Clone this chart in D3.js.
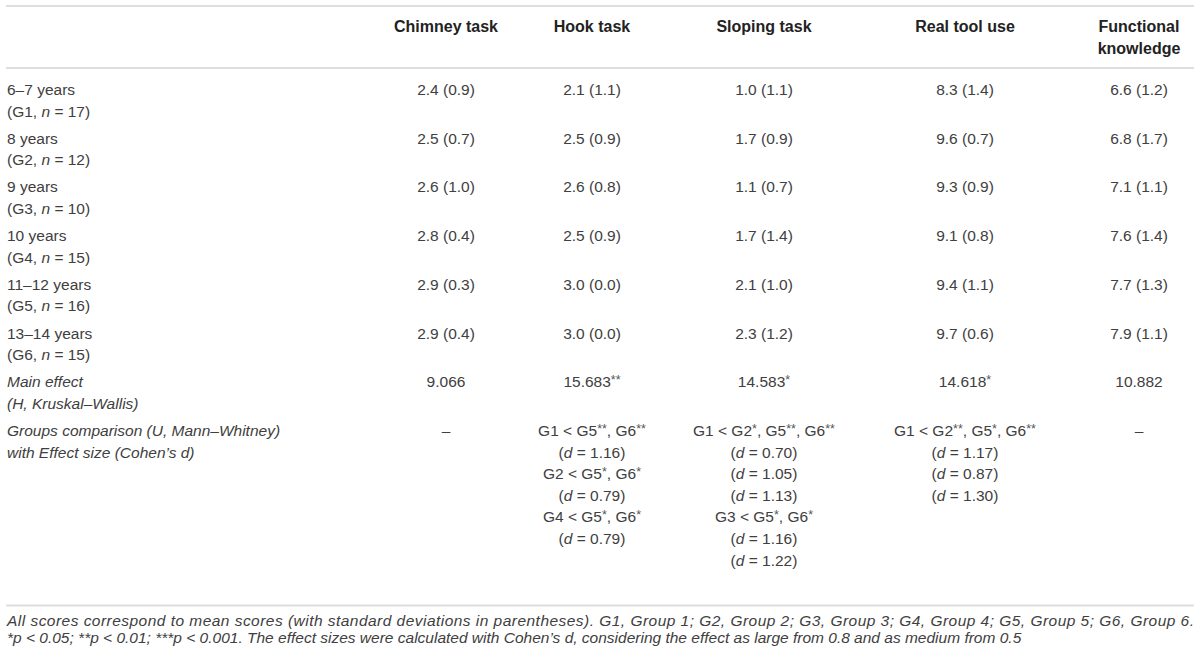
<!DOCTYPE html>
<html>
<head>
<meta charset="utf-8">
<script src="https://cdn.jsdelivr.net/npm/d3@7"></script>
<style>
  html, body { margin: 0; padding: 0; background: #fff; }
  svg { display: block; font-family: "Helvetica Neue", "Liberation Sans", Arial, sans-serif; }
</style>
</head>
<body>
<svg id="table"></svg>
<script>
// table values
const tasks = ["Chimney task", "Hook task", "Sloping task", "Real tool use", "Functional knowledge"];
const taskHeaderLines = [["Chimney task"], ["Hook task"], ["Sloping task"], ["Real tool use"], ["Functional", "knowledge"]];

const ageGroups = ["6–7 years", "8 years", "9 years", "10 years", "11–12 years", "13–14 years"];
const groupCodes = ["G1", "G2", "G3", "G4", "G5", "G6"];
const groupSizes = [17, 12, 10, 15, 16, 15];

const chimneyMean = [2.4, 2.5, 2.6, 2.8, 2.9, 2.9];
const chimneySD = [0.9, 0.7, 1.0, 0.4, 0.3, 0.4];
const hookMean = [2.1, 2.5, 2.6, 2.5, 3.0, 3.0];
const hookSD = [1.1, 0.9, 0.8, 0.9, 0.0, 0.0];
const slopingMean = [1.0, 1.7, 1.1, 1.7, 2.1, 2.3];
const slopingSD = [1.1, 0.9, 0.7, 1.4, 1.0, 1.2];
const realToolMean = [8.3, 9.6, 9.3, 9.1, 9.4, 9.7];
const realToolSD = [1.4, 0.7, 0.9, 0.8, 1.1, 0.6];
const functionalMean = [6.6, 6.8, 7.1, 7.6, 7.7, 7.9];
const functionalSD = [1.2, 1.7, 1.1, 1.4, 1.3, 1.1];

const kruskalH = [9.066, 15.683, 14.583, 14.618, 10.882];
const kruskalStars = ["", "**", "*", "*", ""];

const chimneyComparisons = [];
const hookComparisons = [
  { lower: "G1", higher: ["G5", "G6"], stars: ["**", "**"], d: [1.16] },
  { lower: "G2", higher: ["G5", "G6"], stars: ["*", "*"], d: [0.79] },
  { lower: "G4", higher: ["G5", "G6"], stars: ["*", "*"], d: [0.79] }
];
const slopingComparisons = [
  { lower: "G1", higher: ["G2", "G5", "G6"], stars: ["*", "**", "**"], d: [0.70, 1.05, 1.13] },
  { lower: "G3", higher: ["G5", "G6"], stars: ["*", "*"], d: [1.16, 1.22] }
];
const realToolComparisons = [
  { lower: "G1", higher: ["G2", "G5", "G6"], stars: ["**", "*", "**"], d: [1.17, 0.87, 1.30] }
];
const functionalComparisons = [];

const footnoteLines = [
  "All scores correspond to mean scores (with standard deviations in parentheses). G1, Group 1; G2, Group 2; G3, Group 3; G4, Group 4; G5, Group 5; G6, Group 6.",
  "*p < 0.05; **p < 0.01; ***p < 0.001. The effect sizes were calculated with Cohen’s d, considering the effect as large from 0.8 and as medium from 0.5"
];

const means = [chimneyMean, hookMean, slopingMean, realToolMean, functionalMean];
const sds = [chimneySD, hookSD, slopingSD, realToolSD, functionalSD];
const comparisons = [chimneyComparisons, hookComparisons, slopingComparisons, realToolComparisons, functionalComparisons];

// layout
const width = 1200;
const height = 658;
const left = 7;
const right = 1194;
const lineGap = 21.6;
const fontSize = 15.5;
const textColor = "#404040";
const ruleColor = "#dedede";

const svg = d3.select("#table").attr("width", width).attr("height", height);

const xCol = d3.scaleOrdinal().domain(tasks).range([446, 592, 764, 965, 1139]);
// row index 0-5 = age groups, 6 = main effect, 7 = group comparisons
const yRow = d3.scaleLinear().domain([0, 7]).range([95, 436]);

const f1 = d3.format(".1f");
const f2 = d3.format(".2f");
const f3 = d3.format(".3f");

// draw one line of text made of runs: {text, italic, sup}
const drawLine = (g, x, y, runs, anchor) => {
  const t = g.append("text")
    .attr("x", x)
    .attr("y", y)
    .attr("text-anchor", anchor)
    .attr("font-size", fontSize)
    .attr("fill", textColor);
  let raised = false;
  runs.forEach((r) => {
    const ts = t.append("tspan").text(r.text);
    if (r.italic) ts.attr("font-style", "italic");
    if (r.sup) {
      ts.attr("font-size", 12.5).attr("fill", "#555");
      if (!raised) { ts.attr("dy", -3); raised = true; }
    } else if (raised) {
      ts.attr("dy", 3);
      raised = false;
    }
  });
  return t;
};

const drawRules = () => {
  [6, 68, 605.5].forEach((y) => {
    svg.append("line")
      .attr("x1", left - 1).attr("x2", right)
      .attr("y1", y).attr("y2", y)
      .attr("stroke", ruleColor)
      .attr("stroke-width", 2);
  });
};

const drawHeader = () => {
  const g = svg.append("g").attr("class", "header");
  tasks.forEach((task, i) => {
    taskHeaderLines[i].forEach((line, j) => {
      g.append("text")
        .attr("x", xCol(task))
        .attr("y", 32 + j * lineGap)
        .attr("text-anchor", "middle")
        .attr("font-size", 16)
        .attr("font-weight", "bold")
        .attr("fill", "#222")
        .text(line);
    });
  });
};

const drawRowLabels = () => {
  const g = svg.append("g").attr("class", "row-labels");
  ageGroups.forEach((age, i) => {
    drawLine(g, left, yRow(i), [{ text: age }], "start");
    drawLine(g, left, yRow(i) + lineGap, [
      { text: "(" + groupCodes[i] + ", " },
      { text: "n", italic: true },
      { text: " = " + groupSizes[i] + ")" }
    ], "start");
  });
  drawLine(g, left, yRow(6), [{ text: "Main effect", italic: true }], "start");
  drawLine(g, left, yRow(6) + lineGap, [{ text: "(H, Kruskal–Wallis)", italic: true }], "start");
  drawLine(g, left, yRow(7), [{ text: "Groups comparison (U, Mann–Whitney)", italic: true }], "start");
  drawLine(g, left, yRow(7) + lineGap, [{ text: "with Effect size (Cohen’s d)", italic: true }], "start");
};

const drawScores = () => {
  const g = svg.append("g").attr("class", "scores");
  tasks.forEach((task, c) => {
    means[c].forEach((m, r) => {
      drawLine(g, xCol(task), yRow(r), [{ text: f1(m) + " (" + f1(sds[c][r]) + ")" }], "middle");
    });
    const hRuns = [{ text: f3(kruskalH[c]) }];
    if (kruskalStars[c]) hRuns.push({ text: kruskalStars[c], sup: true });
    drawLine(g, xCol(task), yRow(6), hRuns, "middle");
  });
};

const drawComparisons = () => {
  const g = svg.append("g").attr("class", "comparisons");
  tasks.forEach((task, c) => {
    const list = comparisons[c];
    if (list.length === 0) {
      drawLine(g, xCol(task), yRow(7), [{ text: "–" }], "middle");
      return;
    }
    let line = 0;
    list.forEach((cmp) => {
      const runs = [{ text: cmp.lower + " < " }];
      cmp.higher.forEach((h, k) => {
        runs.push({ text: (k > 0 ? ", " : "") + h });
        runs.push({ text: cmp.stars[k], sup: true });
      });
      drawLine(g, xCol(task), yRow(7) + line * lineGap, runs, "middle");
      line += 1;
      cmp.d.forEach((d) => {
        drawLine(g, xCol(task), yRow(7) + line * lineGap, [
          { text: "(" },
          { text: "d", italic: true },
          { text: " = " + f2(d) + ")" }
        ], "middle");
        line += 1;
      });
    });
  });
};

const drawFootnote = () => {
  const g = svg.append("g").attr("class", "footnote");
  const fs = 15.5;
  // first line is justified to the full table width
  drawLine(g, left, 626, [{ text: footnoteLines[0], italic: true }], "start")
    .attr("font-size", fs)
    .attr("textLength", right - left)
    .attr("lengthAdjust", "spacing");
  drawLine(g, left, 642.5, [{ text: footnoteLines[1], italic: true }], "start")
    .attr("font-size", fs);
};

drawRules();
drawHeader();
drawRowLabels();
drawScores();
drawComparisons();
drawFootnote();
</script>
</body>
</html>
